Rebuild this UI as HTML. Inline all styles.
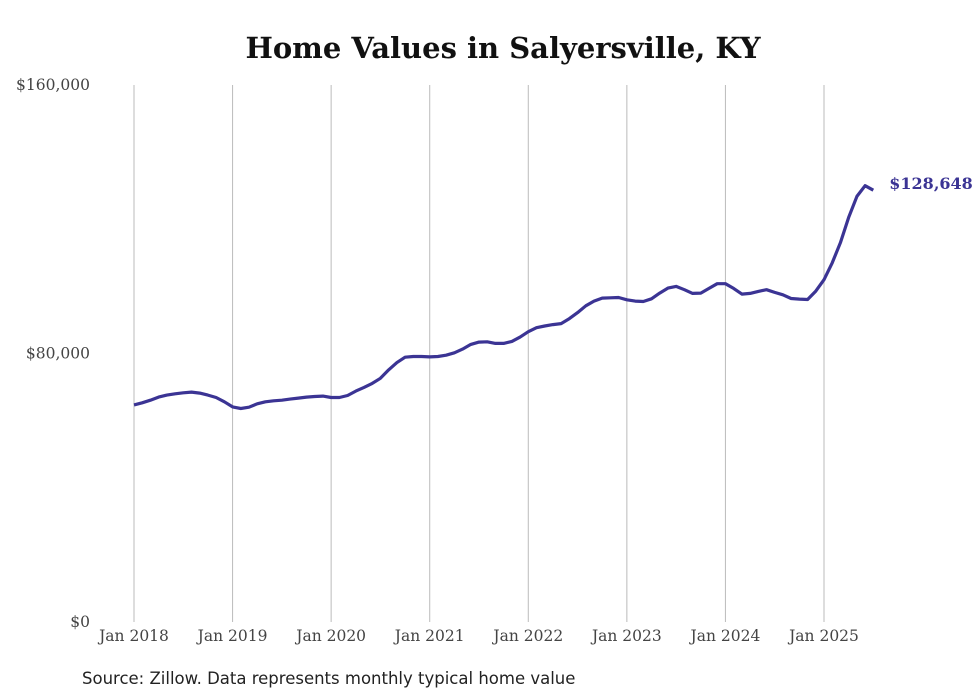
<!DOCTYPE html>
<html><head><meta charset="utf-8"><style>
body{margin:0;background:#fff;}
svg{display:block;}
</style></head><body>
<svg id="chart" width="980" height="699">
<text x="503" y="58" text-anchor="middle" font-family="DejaVu Serif, Liberation Serif, serif" font-weight="bold" font-size="29" fill="#111">Home Values in Salyersville, KY</text>
<g id="grid"></g><g id="yaxis"></g><g id="xaxis"></g><g id="series"></g>
<text x="82" y="684" font-family="DejaVu Sans, Liberation Sans, sans-serif" font-size="16.5" fill="#222">Source: Zillow. Data represents monthly typical home value</text>
</svg>
<script>
const yTicks=[0,80000,160000];
const yTickLabels=["$0","$80,000","$160,000"];
const xTickLabels=["Jan 2018","Jan 2019","Jan 2020","Jan 2021","Jan 2022","Jan 2023","Jan 2024","Jan 2025"];
const values=[64.7,65.3,66.1,67.0,67.6,68.0,68.3,68.5,68.2,67.6,66.9,65.6,
64.1,63.6,64.0,65.0,65.6,65.9,66.1,66.4,66.7,67.0,67.2,67.3,
66.9,66.9,67.5,68.8,69.9,71.1,72.6,75.1,77.3,78.9,79.1,79.1,
79.0,79.1,79.5,80.2,81.3,82.7,83.4,83.5,83.0,83.0,83.6,84.9,
86.5,87.7,88.2,88.6,88.9,90.4,92.2,94.2,95.6,96.5,96.6,96.7,
96.0,95.6,95.5,96.3,98.0,99.5,100.0,99.0,97.9,98.0,99.4,100.8,
100.8,99.4,97.7,97.9,98.5,99.0,98.2,97.5,96.4,96.2,96.1,98.6,
102.0,107.0,113.0,120.5,126.8,130.0,128.648].map(v=>v*1000);
const lastLabel="$128,648";
const NS="http://www.w3.org/2000/svg";
const x=i=>134+i*(824-134)/84;
const y=v=>622-v*(622-85)/160000;
function mk(t,a,p){const e=document.createElementNS(NS,t);for(const k in a)e.setAttribute(k,a[k]);p.appendChild(e);return e;}
const grid=document.getElementById('grid'),ya=document.getElementById('yaxis'),xa=document.getElementById('xaxis'),se=document.getElementById('series');
xTickLabels.forEach((l,j)=>{
 const gl=mk('line',{x1:x(j*12),x2:x(j*12),y1:85,y2:622,stroke:'#bbb','stroke-width':1},grid);
 
 
 const t=mk('text',{x:x(j*12),y:641,'text-anchor':'middle','font-family':'DejaVu Serif, Liberation Serif, serif','font-size':15.5,fill:'#444'},xa);
 t.textContent=l;
 
 
});
yTicks.forEach((v,j)=>{
 const t=mk('text',{x:90,y:y(v)+5,'text-anchor':'end','font-family':'DejaVu Serif, Liberation Serif, serif','font-size':15.5,fill:'#444'},ya);
 t.textContent=yTickLabels[j];
 
 
});
const line=mk('polyline',{points:values.map((v,i)=>x(i).toFixed(1)+','+y(v).toFixed(1)).join(' '),fill:'none',stroke:'#3b3494','stroke-width':3.2,'stroke-linejoin':'round'},se);


const n=values.length-1;
const lt=mk('text',{x:x(n)+16,y:y(values[n])-1,'font-family':'DejaVu Serif, Liberation Serif, serif','font-size':16,'font-weight':'bold',fill:'#3b3494'},se);
lt.textContent=lastLabel;


</script>
</body></html>
